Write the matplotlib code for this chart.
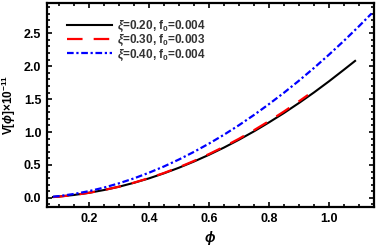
import matplotlib
matplotlib.use("Agg")
import matplotlib.pyplot as plt
from matplotlib.ticker import MultipleLocator

plt.rcParams["font.family"] = ["Liberation Sans", "DejaVu Sans"]
plt.rcParams["mathtext.fontset"] = "custom"
plt.rcParams["mathtext.rm"] = "Liberation Sans:bold"
plt.rcParams["mathtext.it"] = "Liberation Sans:italic:bold"
plt.rcParams["mathtext.bf"] = "Liberation Sans:bold"

# xi = 0.20, f0 = 0.004
phi_a = [0.08, 0.10, 0.15, 0.20, 0.25, 0.30, 0.35, 0.40, 0.45, 0.50, 0.55, 0.60,
         0.65, 0.70, 0.75, 0.80, 0.85, 0.90, 0.95, 1.00, 1.05, 1.087]
v_a = [0.013, 0.020, 0.044, 0.077, 0.119, 0.169, 0.229, 0.296, 0.373, 0.458, 0.552,
       0.654, 0.764, 0.883, 1.010, 1.146, 1.289, 1.441, 1.601, 1.770, 1.947, 2.080]

# xi = 0.30, f0 = 0.003
phi_b = [0.08, 0.10, 0.15, 0.20, 0.25, 0.30, 0.35, 0.40, 0.45, 0.50, 0.55, 0.60,
         0.65, 0.70, 0.75, 0.80, 0.85, 0.90, 0.93]
v_b = [0.012, 0.019, 0.043, 0.077, 0.119, 0.170, 0.231, 0.300, 0.378, 0.465, 0.561,
       0.665, 0.777, 0.898, 1.028, 1.166, 1.312, 1.467, 1.563]

# xi = 0.40, f0 = 0.004
phi_c = [0.08, 0.10, 0.15, 0.20, 0.25, 0.30, 0.35, 0.40, 0.45, 0.50, 0.55, 0.60,
         0.65, 0.70, 0.75, 0.80, 0.85, 0.90, 0.95, 1.00, 1.05, 1.10, 1.142]
v_c = [0.018, 0.027, 0.059, 0.102, 0.156, 0.221, 0.296, 0.382, 0.477, 0.583, 0.699,
       0.824, 0.959, 1.104, 1.259, 1.424, 1.597, 1.780, 1.973, 2.175, 2.386, 2.607, 2.800]

labels = [r"$\xi$=0.20, f$_0$=0.004", r"$\xi$=0.30, f$_0$=0.003", r"$\xi$=0.40, f$_0$=0.004"]

fig = plt.figure(figsize=(3.82, 2.48), dpi=100)
ax = fig.add_axes([0.123, 0.165, 0.856, 0.823])

ax.plot(phi_a, v_a, color="black", lw=1.5, label=labels[0])
ax.plot(phi_b, v_b, color="red", lw=1.6, dashes=(7, 5), label=labels[1])
ax.plot(phi_c, v_c, color="blue", lw=1.6, dashes=(3, 1.2, 1, 1.2), label=labels[2])

ax.set_xlim(0.06, 1.15)
ax.set_ylim(-0.14, 2.96)
ax.xaxis.set_major_locator(MultipleLocator(0.2))
ax.xaxis.set_minor_locator(MultipleLocator(0.05))
ax.yaxis.set_major_locator(MultipleLocator(0.5))
ax.yaxis.set_minor_locator(MultipleLocator(0.1))
ax.tick_params(which="both", direction="in", top=True, right=True, width=1.2,
               labelsize=9, pad=4)
ax.tick_params(which="major", length=3.5)
ax.tick_params(which="minor", length=2)
for lab in ax.get_xticklabels() + ax.get_yticklabels():
    lab.set_fontweight("bold")
for sp in ax.spines.values():
    sp.set_linewidth(1.6)

ax.set_xlabel(r"$\phi$", fontsize=10, labelpad=3)
ax.set_ylabel(r"V[$\phi$]×10$^{-11}$", fontsize=8.5, fontweight="bold", labelpad=4)

leg = ax.legend(loc="upper left", bbox_to_anchor=(0.03, 0.975), frameon=False,
                prop={"weight": "bold", "size": 8.5}, handlelength=3.8,
                handletextpad=0.4, labelspacing=-0.05)
for t in leg.get_texts():
    t.set_color("#333333")

fig.savefig("out.png", dpi=100)
